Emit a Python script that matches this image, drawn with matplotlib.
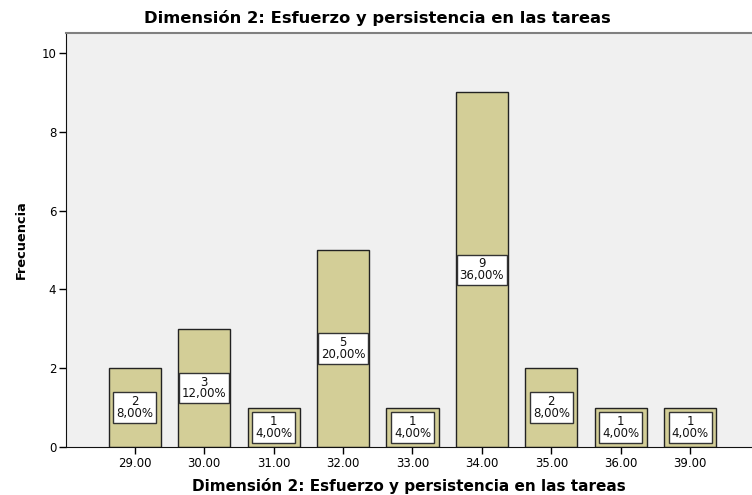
import matplotlib
matplotlib.use("Agg")
import matplotlib.pyplot as plt

categorias = ["29.00", "30.00", "31.00", "32.00", "33.00", "34.00", "35.00", "36.00", "39.00"]
frecuencias = [2, 3, 1, 5, 1, 9, 2, 1, 1]
porcentajes = ["8,00%", "12,00%", "4,00%", "20,00%", "4,00%", "36,00%", "8,00%", "4,00%", "4,00%"]
titulo = "Dimensión 2: Esfuerzo y persistencia en las tareas"

plt.rcParams['font.family'] = ['DejaVu Sans']

fig = plt.figure(figsize=(7.52, 4.95), dpi=100)
ax = fig.add_axes([66 / 752, 1 - 447 / 495, 1 - 66 / 752, (447 - 33) / 495])
ax.set_facecolor('#F0F0F0')

pos = list(range(len(categorias)))
ax.bar(pos, frecuencias, width=0.75, color='#D3CE97', edgecolor='#222222', linewidth=1.0, zorder=2)

for x, f, p in zip(pos, frecuencias, porcentajes):
    ax.text(x, f / 2, f"{f}\n{p}", ha='center', va='center', fontsize=8.5, linespacing=0.85,
            color='#111111', zorder=3,
            bbox=dict(boxstyle='square,pad=0.25', fc='white', ec='#333333', lw=1.0))

ax.set_xlim(-0.99, 8.89)
ax.set_ylim(0, 10.51)
ax.set_xticks(pos)
ax.set_xticklabels(categorias, fontsize=8.5)
ax.set_yticks([0, 2, 4, 6, 8, 10])
ax.tick_params(axis='both', direction='out', length=5, width=1, labelsize=8.5, pad=2)

ax.spines['left'].set_color('#111111')
ax.spines['bottom'].set_color('#111111')
ax.spines['top'].set_color('#808080')
ax.spines['top'].set_linewidth(1.5)
ax.spines['right'].set_visible(False)

fig.text(377 / 752, 1 - 18 / 495, titulo, ha='center', va='center', fontsize=11.8, fontweight='bold')
ax.set_xlabel(titulo, fontsize=11, fontweight='bold', labelpad=6)
ax.set_ylabel("Frecuencia", fontsize=9.3, fontweight='bold', labelpad=10)

fig.savefig("out.png", dpi=100)
